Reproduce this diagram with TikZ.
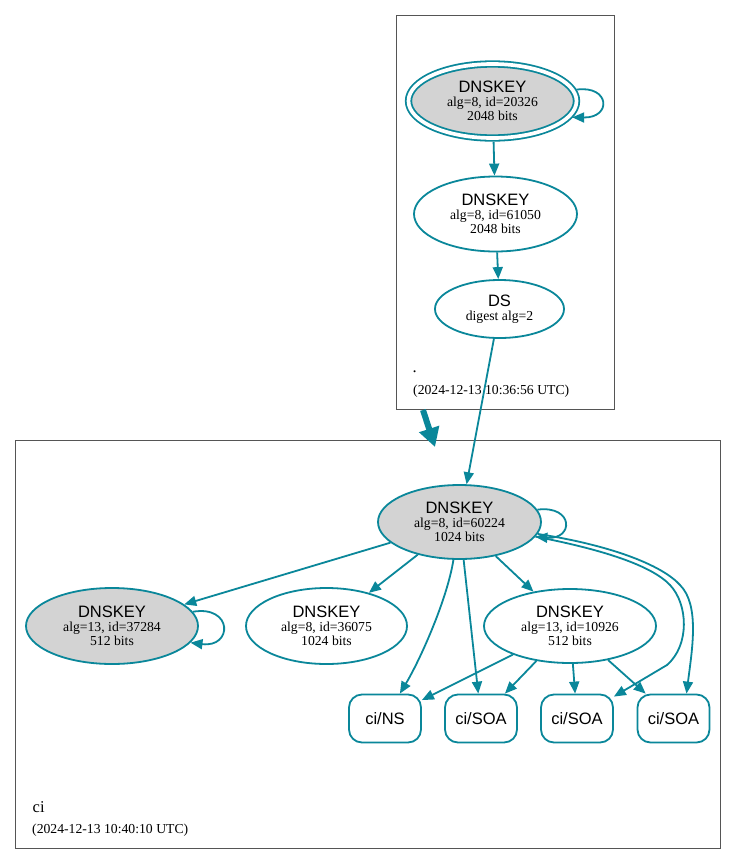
\documentclass[tikz,border=0pt]{standalone}
\usepackage{fontspec}
\setmainfont{Liberation Serif}
\newfontfamily\helv{Liberation Sans}
\usetikzlibrary{arrows.meta,shapes.geometric}
\definecolor{dnsteal}{HTML}{0A879A}
\definecolor{keygray}{HTML}{D3D3D3}
\definecolor{framegray}{HTML}{555555}
\newcommand\keyfnt{\helv\fontsize{16.5}{14}\selectfont}
\newcommand\detfnt{\fontsize{13.7}{14}\selectfont}
\newcommand\labfnt{\fontsize{16.5}{18}\selectfont}
\tikzset{
  keynode/.style={ellipse, draw=dnsteal, line width=1.8pt, inner sep=0pt, align=center, font=\detfnt},
  ksknode/.style={keynode, fill=keygray},
  rrnode/.style={rectangle, rounded corners=13pt, draw=dnsteal, line width=1.8pt, minimum width=72pt, minimum height=48pt, inner sep=0pt, font=\keyfnt},
  edge/.style={draw=dnsteal, line width=1.8pt, -{Triangle[length=12pt,width=10pt]}},
  bigedge/.style={draw=dnsteal, line width=6pt, -{Triangle[length=19pt,width=20pt]}},
  frame/.style={draw=framegray, line width=0.8pt},
  zonelab/.style={anchor=base west, inner sep=0pt},
}
\begin{document}
\begin{tikzpicture}[x=1pt,y=-1pt]
\useasboundingbox[fill=white] (0,0) rectangle (736,865);
% cluster frames
\draw[frame] (396,15) rectangle (614,409);
\draw[frame] (15,440) rectangle (720,848);
% top zone
\node[ksknode, double=white, double distance=3.7pt, minimum width=168pt, minimum height=74pt] (k20326) at (492.5,101) {{\keyfnt DNSKEY}\\alg=8, id=20326\\2048 bits};
\node[keynode, minimum width=163pt, minimum height=75pt] (k61050) at (495.5,214) {{\keyfnt DNSKEY}\\alg=8, id=61050\\2048 bits};
\node[keynode, minimum width=129pt, minimum height=58pt] (ds) at (499.5,309) {{\keyfnt DS}\\digest alg=2};
\node[zonelab, font=\labfnt] (rootname) at (412.5,372) {.};
\node[zonelab, font=\detfnt] (rootdate) at (413,394) {(2024-12-13 10:36:56 UTC)};
% bottom zone
\node[ksknode, minimum width=163pt, minimum height=74pt] (k60224) at (459.5,522) {{\keyfnt DNSKEY}\\alg=8, id=60224\\1024 bits};
\node[ksknode, minimum width=172pt, minimum height=76pt] (k37284) at (112,626) {{\keyfnt DNSKEY}\\alg=13, id=37284\\512 bits};
\node[keynode, minimum width=161pt, minimum height=76pt] (k36075) at (326.5,626) {{\keyfnt DNSKEY}\\alg=8, id=36075\\1024 bits};
\node[keynode, minimum width=172pt, minimum height=74pt] (k10926) at (570,626) {{\keyfnt DNSKEY}\\alg=13, id=10926\\512 bits};
\node[rrnode] (ns) at (385,718.5) {ci/NS};
\node[rrnode] (soaa) at (481,718.5) {ci/SOA};
\node[rrnode] (soab) at (577,718.5) {ci/SOA};
\node[rrnode] (soac) at (673.5,718.5) {ci/SOA};
\node[zonelab, font=\labfnt] (ciname) at (32.5,812) {ci};
\node[zonelab, font=\detfnt] (cidate) at (32,833) {(2024-12-13 10:40:10 UTC)};
% delegation arrow
\coordinate (delegfrom) at (423,410);
\coordinate (delegto) at (435,447);
\draw[bigedge] (delegfrom) -- (delegto);
% top edges
\draw[edge] ([xshift=3pt]k20326.8) .. controls (610,85) and (612,118) .. ([xshift=3pt]k20326.-12);
\draw[edge, shorten <=3pt] (k20326) -- (k61050);
\draw[edge] (k61050) -- (ds);
\draw[edge] (ds) -- (k60224);
% bottom edges
\draw[edge] (k60224.9) .. controls (574,505) and (574,540) .. (k60224.-11);
\draw[edge] (k37284.10) .. controls (233,605) and (233,648) .. (k37284.-12);
\draw[edge] (k60224) -- (k37284);
\draw[edge] (k60224) -- (k36075);
\draw[edge] (k60224) -- (k10926);
\draw[edge] (k60224) .. controls (447,600) and (420,660) .. (ns);
\draw[edge] (k60224) -- (soaa);
\draw[edge] (k60224) .. controls (605,550) and (652,566) .. (670,585) .. controls (688,604) and (690,645) .. (667,665) -- (soab);
\draw[edge] (k60224) .. controls (610,545) and (662,565) .. (680,585) .. controls (700,605) and (692,650) .. ([xshift=13pt]soac.north);
\draw[edge] (k10926) -- (ns);
\draw[edge] (k10926) -- (soaa);
\draw[edge] (k10926) -- (soab);
\draw[edge] (k10926) -- (soac);
\end{tikzpicture}
\end{document}
